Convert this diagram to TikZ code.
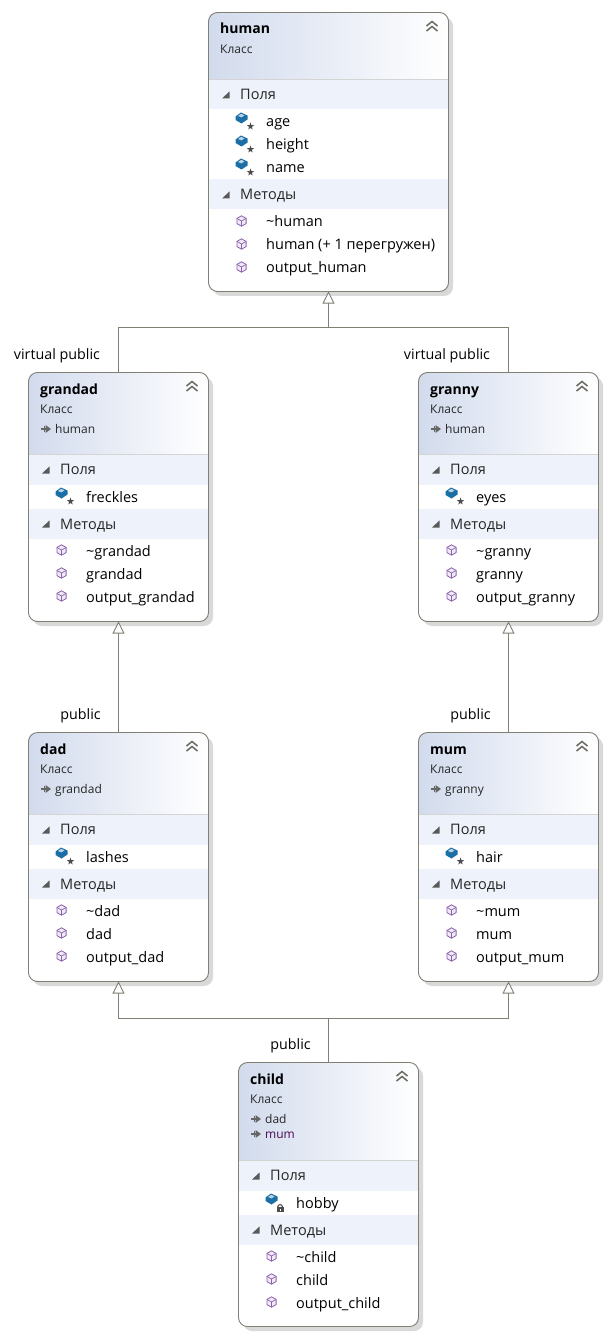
\documentclass[tikz,border=0pt]{standalone}
\usepackage{fontspec}
\setmainfont{Open Sans}
\usetikzlibrary{arrows.meta}
\definecolor{edgeC}{HTML}{7F7F74}
\definecolor{shadowC}{HTML}{D9D9D9}
\definecolor{bandC}{HTML}{EEF2FA}
\definecolor{headL}{HTML}{D2DBED}
\definecolor{sepC}{HTML}{D4D4D4}
\definecolor{iconB}{HTML}{1B6FA6}
\definecolor{iconP}{HTML}{8B62AE}
\definecolor{iconPf}{HTML}{F0E9F6}
\definecolor{chevC}{HTML}{6A6A60}
\definecolor{purpleText}{HTML}{4A0A50}
\tikzset{
  x=1pt,y=-1pt,
  classframe/.style={draw=edgeC,line width=0.9pt,rounded corners=9pt,fill=none,inner sep=0pt,outer sep=0pt,anchor=north west},
  rowtext/.style={anchor=base west,inner sep=0pt,font=\fontsize{14.5}{16}\selectfont,text=black},
  bandtext/.style={anchor=base west,inner sep=0pt,font=\fontsize{14.5}{16}\selectfont,text=black!85},
  titletext/.style={anchor=base west,inner sep=0pt,font=\fontsize{14}{16}\selectfont\bfseries,text=black},
  smalltext/.style={anchor=base west,inner sep=0pt,font=\fontsize{12}{14}\selectfont,text=black!85},
  linklabel/.style={inner sep=0pt,font=\fontsize{14.3}{16}\selectfont,text=black},
  inherit/.style={draw=edgeC,line width=0.9pt,-{Triangle[open,length=12pt,width=12pt,fill=white]}},
  plainlink/.style={draw=edgeC,line width=0.9pt},
}
\newcount\fieldcount
\newcommand{\fieldicon}[3]{% cx cy lock?
  \begin{scope}[shift={(#1,#2)}]
    \fill[iconB] (-6,-1.5) -- (-0.5,-5.5) -- (6,-2.5) -- (6,1.5) -- (0,5.5) -- (-6,2) -- cycle;
    \fill[iconB!30!white] (-3.5,-2) -- (-0.3,-4.2) -- (3,-2.6) -- (0,-0.6) -- cycle;
    \ifnum#3=0
      \fill[black!70] (9,4.5) -- (9.9,7.2) -- (12.6,7.2) -- (10.4,8.9) -- (11.2,11.5) -- (9,9.9) -- (6.8,11.5) -- (7.6,8.9) -- (5.4,7.2) -- (8.1,7.2) -- cycle;
    \else
      \draw[black!70,line width=1.1pt] (6.2,8) arc[start angle=180,end angle=360,radius=2.4];
      \fill[black!70] (5,8) rectangle (12.2,13);
      \fill[white] (8,9.5) rectangle (9.2,11.5);
    \fi
  \end{scope}}
\newcommand{\methodicon}[2]{%
  \begin{scope}[shift={(#1,#2)}]
    \filldraw[draw=iconP,fill=iconPf,line width=0.8pt,line join=round] (0,-5.2) -- (4.6,-2.6) -- (4.6,2.6) -- (0,5.2) -- (-4.6,2.6) -- (-4.6,-2.6) -- cycle;
    \draw[iconP,line width=0.7pt] (-4.6,-2.6) -- (0,0) -- (4.6,-2.6) (0,0) -- (0,5.2);
  \end{scope}}
\newcommand{\baseicon}[2]{%
  \fill[black!60] (#1,#2-1) rectangle ++(7,2);
  \fill[black!60] (#1+5,#2-4) -- (#1+10.5,#2) -- (#1+5,#2+4) -- cycle;
  \draw[black!60,line width=1pt] (#1+4,#2-3) -- ++(0,6);}
\newcommand{\toggleicon}[2]{%
  \fill[black!65] (#1+4,#2-4) -- (#1+4,#2+3) -- (#1-3.5,#2+3) -- cycle;}
\newcommand{\lockflag}{0}
\newcommand{\methodlist}{}
\newcommand{\classbox}[9]{%
  \fill[shadowC,rounded corners=9pt] (#2+4.5,#3+4.5) rectangle ++(#4,#5);
  \fill[white,rounded corners=9pt] (#2,#3) rectangle ++(#4,#5);
  \begin{scope}
    \clip[rounded corners=9pt] (#2,#3) rectangle ++(#4,#5);
    \shade[left color=headL,right color=white] (#2,#3) rectangle ++(#4,#6);
    \draw[sepC,line width=0.8pt] (#2,#3+#6) -- ++(#4,0);
    \fill[bandC] (#2,#3+#6+0.5) rectangle ++(#4,29.5);
  \end{scope}
  \node[classframe,minimum width=#4 pt,minimum height=#5 pt] (#1) at (#2,#3) {};
  \node[titletext] (#1-title) at (#2+11.5,#3+21.5) {#7};
  \node[smalltext] (#1-kind) at (#2+11.5,#3+41) {Класс};
  \foreach \b [count=\i] in {#8} {
    \ifx\b\empty\else
      \baseicon{#2+12}{#3+41.5+15*\i}
      \node[smalltext] (#1-base\i) at (#2+26.5,#3+46+15*\i) {\ifnum\i=2 \color{purpleText}\fi\b};
    \fi
  }
  \draw[chevC,line width=1.5pt] (#2+#4-22,#3+13.5) -- (#2+#4-16.5,#3+9) -- (#2+#4-11,#3+13.5)
        (#2+#4-22,#3+18.5) -- (#2+#4-16.5,#3+14) -- (#2+#4-11,#3+18.5);
  \toggleicon{#2+17}{#3+#6+16}
  \node[bandtext] (#1-fields) at (#2+31.5,#3+#6+20) {Поля};
  \foreach \t [count=\i] in {#9} {
    \fieldicon{#2+33}{#3+#6+38.5+23*\i-23}{\lockflag}
    \node[rowtext] (#1-f\i) at (#2+57.5,#3+#6+47.5+23*\i-23) {\t};
  }
  \foreach \t in {#9} {\global\advance\fieldcount by 1 }
  \pgfmathsetmacro{\bandy}{#3+#6+30+23*\the\fieldcount+1}
  \global\fieldcount=0
  \fill[bandC] (#2+0.5,\bandy) rectangle ++(#4-1,30);
  \toggleicon{#2+17}{\bandy+16}
  \node[bandtext] (#1-methods) at (#2+31.5,\bandy+20.5) {Методы};
  \foreach \t [count=\i] in \methodlist {
    \methodicon{#2+33}{\bandy+41.5+23*\i-23}
    \node[rowtext] (#1-m\i) at (#2+57.5,\bandy+47.5+23*\i-23) {\t};
  }
}
\begin{document}
\begin{tikzpicture}
\useasboundingbox (0,0) rectangle (610,1337);
\fill[white] (0,0) rectangle (610,1337);

\renewcommand{\methodlist}{{\textasciitilde human},{human (+ 1 перегружен)},{output\_human}}
\classbox{human}{208.5}{12.5}{240}{279}{67}{human}{}{age,height,name}
\renewcommand{\methodlist}{{\textasciitilde grandad},{grandad},{output\_grandad}}
\classbox{grandad}{28.5}{372.5}{180}{249}{82}{grandad}{human}{freckles}
\renewcommand{\methodlist}{{\textasciitilde granny},{granny},{output\_granny}}
\classbox{granny}{418.5}{372.5}{180}{249}{82}{granny}{human}{eyes}
\renewcommand{\methodlist}{{\textasciitilde dad},{dad},{output\_dad}}
\classbox{dad}{28.5}{732.5}{180}{249}{82}{dad}{grandad}{lashes}
\renewcommand{\methodlist}{{\textasciitilde mum},{mum},{output\_mum}}
\classbox{mum}{418.5}{732.5}{180}{249}{82}{mum}{granny}{hair}
\renewcommand{\lockflag}{1}
\renewcommand{\methodlist}{{\textasciitilde child},{child},{output\_child}}
\classbox{child}{238.5}{1062.5}{180}{264}{98}{child}{dad,mum}{hobby}

\coordinate (topjoin) at (328.5,327.5);
\coordinate (botjoin) at (328.5,1018.5);
\draw[inherit] (grandad.north) |- (topjoin) -- (human.south);
\draw[plainlink] (granny.north) |- (topjoin);
\draw[inherit] (dad.north) -- (grandad.south);
\draw[inherit] (mum.north) -- (granny.south);
\draw[plainlink] (child.north) -- (botjoin);
\draw[inherit] (botjoin) -| (dad.south);
\draw[inherit] (botjoin) -| (mum.south);

\node[linklabel] (lblA) at (57,355.7) {virtual public};
\node[linklabel] (lblB) at (447,355.7) {virtual public};
\node[linklabel] (lblC) at (80.5,715.7) {public};
\node[linklabel] (lblD) at (470.5,715.7) {public};
\node[linklabel] (lblE) at (290.5,1045.7) {public};
\end{tikzpicture}
\end{document}
